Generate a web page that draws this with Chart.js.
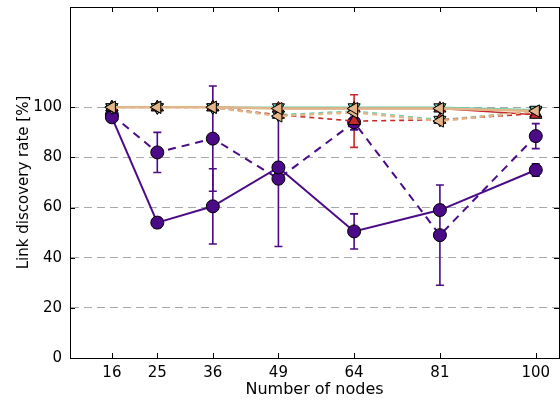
<!DOCTYPE html>
<html>
<head>
<meta charset="utf-8">
<script src="https://cdn.jsdelivr.net/npm/chart.js@4"></script>
<style>
  body { margin: 0; background: #fff; overflow: hidden; }
  #wrap { width: 560px; height: 401px; }
</style>
</head>
<body>
<div id="wrap"><canvas id="chart"></canvas></div>
<script>
const nodes = [16, 25, 36, 49, 64, 81, 100];
const yTicks = [0, 20, 40, 60, 80, 100];

const purpleSolid = [96, 54, 60.5, 76, 50.5, 59, 75];
const purpleSolidErr = [1.5, 2, 15, 2, 7, 2, 2.5];
const purpleDashed = [97, 82, 87.5, 71.5, 94, 49, 88.5];
const purpleDashedErr = [2, 8, 21, 27, 3, 20, 5];

const redSolid = [100, 100, 100, 99.5, 99.5, 99.5, 97];
const redDashed = [100, 100, 100, 97, 94.5, 95, 97.5];
const redDashedErr = [0, 0, 0, 0.5, 10.5, 1, 1.5];
const tealSolid = [100, 100, 100, 100, 100, 100, 99];
const tealDashed = [100, 100, 100, 97, 98.5, 95, 98.5];
const tanSolid = [100, 100, 100, 99.5, 99.5, 99.5, 98.5];
const tanDashed = [100, 100, 100, 96.5, 98, 94.5, 98.5];

const PURPLE = "#4b0a86";
const RED = "#c62a2a";
const TEAL = "#5fcfae";
const TAN = "#e3b68a";

function pts(values) {
    return values.map(function (v, i) { return { x: nodes[i], y: v }; });
}

function series(values, color, dashed, style, rotation, errs) {
    const circle = style === "circle";
    return {
        data: pts(values),
        errs: errs || null,
        borderColor: color,
        backgroundColor: color,
        borderWidth: circle ? 2 : (color === TAN ? 2.4 : 1.6),
        borderDash: dashed ? (circle ? [8, 6] : [5, 4]) : [],
        pointStyle: style,
        rotation: rotation,
        pointRadius: circle ? 6.5 : 7,
        pointBorderColor: "#000",
        pointBorderWidth: 1,
        pointBackgroundColor: color,
        tension: 0,
    };
}

const noPadding = function () { return { left: 0, top: 0, right: 0, bottom: 0 }; };

// error bars, drawn under the markers
const errorBars = {
    id: "errorBars",
    beforeDatasetsDraw(chart) {
        const ctx = chart.ctx;
        const xs = chart.scales.x, ys = chart.scales.y;
        chart.data.datasets.forEach(function (ds) {
            if (!ds.errs) return;
            ctx.save();
            ctx.strokeStyle = ds.borderColor;
            ctx.lineWidth = 1.6;
            ds.data.forEach(function (p, i) {
                const e = ds.errs[i];
                if (!e) return;
                const x = xs.getPixelForValue(p.x);
                const y1 = ys.getPixelForValue(p.y - e);
                const y2 = ys.getPixelForValue(p.y + e);
                ctx.beginPath();
                ctx.moveTo(x, y1); ctx.lineTo(x, y2);
                ctx.moveTo(x - 4, y1); ctx.lineTo(x + 4, y1);
                ctx.moveTo(x - 4, y2); ctx.lineTo(x + 4, y2);
                ctx.stroke();
            });
            ctx.restore();
        });
    },
};

// frame and inward ticks, matplotlib style
const frame = {
    id: "frame",
    afterDraw(chart) {
        const ctx = chart.ctx;
        const a = chart.chartArea;
        const xs = chart.scales.x, ys = chart.scales.y;
        ctx.save();
        ctx.strokeStyle = "#000";
        ctx.lineWidth = 1;
        ctx.strokeRect(a.left + 0.5, a.top + 0.5, a.right - a.left, a.bottom - a.top);
        ctx.beginPath();
        nodes.forEach(function (n) {
            const x = Math.round(xs.getPixelForValue(n)) + 0.5;
            ctx.moveTo(x, a.bottom); ctx.lineTo(x, a.bottom - 5);
            ctx.moveTo(x, a.top); ctx.lineTo(x, a.top + 5);
        });
        yTicks.forEach(function (t) {
            const y = Math.round(ys.getPixelForValue(t)) + 0.5;
            ctx.moveTo(a.left, y); ctx.lineTo(a.left + 5, y);
            ctx.moveTo(a.right, y); ctx.lineTo(a.right - 5, y);
        });
        ctx.stroke();
        ctx.restore();
    },
};

new Chart(document.getElementById("chart"), {
    type: "line",
    data: {
        datasets: [
            series(tanSolid, TAN, false, "triangle", 270),
            series(tanDashed, TAN, true, "triangle", 270),
            series(redSolid, RED, false, "triangle", 0),
            series(redDashed, RED, true, "triangle", 0, redDashedErr),
            series(tealSolid, TEAL, false, "triangle", 180),
            series(tealDashed, TEAL, true, "triangle", 180),
            series(purpleSolid, PURPLE, false, "circle", 0, purpleSolidErr),
            series(purpleDashed, PURPLE, true, "circle", 0, purpleDashedErr),
        ],
    },
    options: {
        responsive: true,
        maintainAspectRatio: false,
        animation: false,
        layout: { autoPadding: false, padding: { top: 7, right: 1, left: 0, bottom: 0 } },
        plugins: {
            legend: { display: false },
            tooltip: { enabled: false },
        },
        scales: {
            x: {
                type: "linear",
                min: 7.7,
                max: 104.6,
                afterBuildTicks: function (scale) {
                    scale.ticks = nodes.map(function (n) { return { value: n }; });
                },
                afterFit: function (scale) {
                    scale.height = 43;
                    scale.paddingLeft = 0;
                    scale.paddingRight = 0;
                    scale.getPadding = noPadding;
                },
                grid: { display: false, drawTicks: false },
                border: { display: true, color: "#000" },
                ticks: {
                    color: "#000",
                    padding: 6,
                    maxRotation: 0,
                    font: { family: "DejaVu Sans", size: 15 },
                },
                title: {
                    display: true,
                    text: "Number of nodes",
                    color: "#000",
                    font: { family: "DejaVu Sans", size: 16 },
                    padding: { top: 0, bottom: 2 },
                },
            },
            y: {
                min: 0,
                max: 140,
                afterBuildTicks: function (scale) {
                    scale.ticks = yTicks.map(function (t) { return { value: t }; });
                },
                afterFit: function (scale) {
                    scale.width = 70;
                    scale.paddingTop = 0;
                    scale.paddingBottom = 0;
                    scale.getPadding = noPadding;
                },
                grid: {
                    drawTicks: false,
                    color: function (c) { return c.tick.value === 0 ? "rgba(0,0,0,0)" : "#a8a8a8"; },
                    lineWidth: 1,
                },
                border: { display: true, color: "#000", dash: [8, 5] },
                ticks: {
                    color: "#000",
                    padding: 8,
                    font: { family: "DejaVu Sans", size: 15 },
                },
                title: {
                    display: true,
                    text: "Link discovery rate [%]",
                    color: "#000",
                    font: { family: "DejaVu Sans", size: 15 },
                    padding: { top: 15, bottom: 0 },
                },
            },
        },
    },
    plugins: [errorBars, frame],
});
</script>
</body>
</html>
